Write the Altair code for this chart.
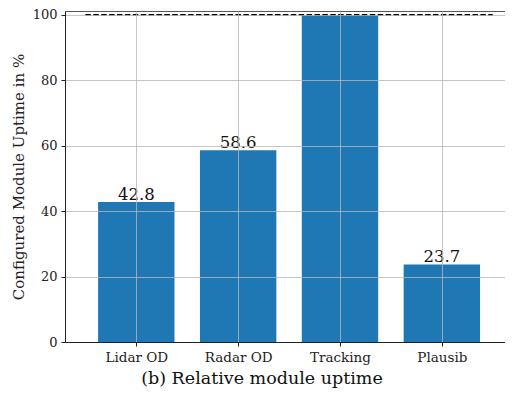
import json
import altair as alt
import pandas as pd

# ---- data ----
modules = ["Lidar OD", "Radar OD", "Tracking", "Plausib"]
uptime = [42.8, 58.6, 99.9, 23.7]
label_text = ["42.8", "58.6", "", "23.7"]   # Tracking label falls outside the figure
ref_level = [100.0]
ref_span_start = [-0.5]
ref_span_end = [3.5]
y_ticks = [0, 20, 40, 60, 80, 100]

FONT = "DejaVu Serif"
BAR_W = 0.75

df = pd.DataFrame({
    "idx": list(range(len(modules))),
    "module": modules,
    "uptime": uptime,
    "label": label_text,
})
ref_df = pd.DataFrame({"y": ref_level, "x0": ref_span_start, "x1": ref_span_end})

xscale = alt.Scale(domain=[-0.7, 3.62], nice=False, zero=False)
yscale = alt.Scale(domain=[0, 101.2], nice=False)

label_expr = json.dumps(modules) + "[round(datum.value)]"

x_axis = alt.Axis(
    values=list(range(len(modules))), labelExpr=label_expr, title=None,
    grid=True, gridColor="#b8b8b8", gridWidth=0.8,
    tickSize=4, tickColor="#222", domainColor="#222", domainWidth=1,
    labelFont=FONT, labelFontSize=13.5, labelColor="#222", labelPadding=4,
    zindex=1,
)
y_axis = alt.Axis(
    values=y_ticks, title="Configured Module Uptime in %",
    grid=True, gridColor="#b8b8b8", gridWidth=0.8,
    tickSize=4, tickColor="#222", domainColor="#222", domainWidth=1,
    labelFont=FONT, labelFontSize=13, labelColor="#222", labelPadding=4,
    titleFont=FONT, titleFontSize=15, titleFontWeight="normal", titleColor="#222",
    titlePadding=6, zindex=1,
)

base = alt.Chart(df).transform_calculate(
    x0=f"datum.idx - {BAR_W / 2}", x1=f"datum.idx + {BAR_W / 2}"
)

bars = base.mark_rect(color="#1f77b4").encode(
    x=alt.X("x0:Q", scale=xscale, axis=x_axis),
    x2="x1:Q",
    y=alt.Y("uptime:Q", scale=yscale, axis=y_axis),
    y2=alt.Y2(datum=0),
)

labels = alt.Chart(df).transform_filter("datum.label != ''").mark_text(
    font=FONT, fontSize=16.5, color="#111", baseline="alphabetic", dy=-2
).encode(
    x=alt.X("idx:Q", scale=xscale, axis=None),
    y=alt.Y("uptime:Q", scale=yscale),
    text="label:N",
)

ref_line = alt.Chart(ref_df).mark_rule(
    color="black", strokeWidth=1.8, strokeDash=[5.5, 2.4]
).encode(
    x=alt.X("x0:Q", scale=xscale, axis=alt.Axis(
        orient="top", labels=False, ticks=False, grid=False, title=None,
        domain=True, domainColor="#555", domainWidth=1.2)),
    x2="x1:Q",
    y=alt.Y("y:Q", scale=yscale),
)

chart = alt.layer(bars, labels, ref_line).resolve_axis(x="independent").properties(
    width=440, height=331,
    autosize=alt.AutoSizeParams(type="none"),
    padding={"left": 57, "top": 3, "right": 0, "bottom": 46},
    title=alt.TitleParams(
        "(b) Relative module uptime", orient="bottom", font=FONT, fontSize=17.5,
        fontWeight="normal", color="#111", anchor="middle", frame="group",
        offset=6, dx=-23,
    ),
).configure_view(stroke=None).configure(background="white")

chart.save("out.html", embed_options={"renderer": "svg", "actions": False})
